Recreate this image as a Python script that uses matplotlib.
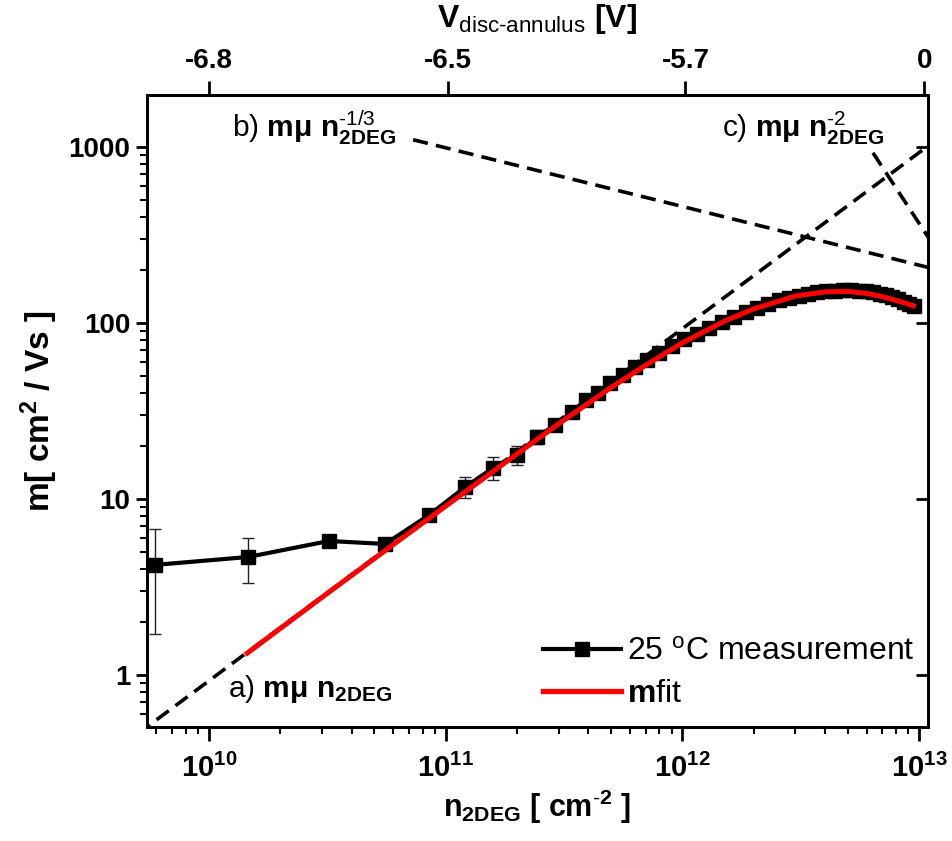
import matplotlib
matplotlib.use("Agg")
import matplotlib.pyplot as plt
from matplotlib.lines import Line2D
from matplotlib.ticker import LogLocator, NullFormatter, NullLocator

plt.rcParams['font.family'] = ['Liberation Sans', 'DejaVu Sans']
plt.rcParams['mathtext.fontset'] = 'custom'
plt.rcParams['mathtext.rm'] = 'Liberation Sans'
plt.rcParams['mathtext.bf'] = 'Liberation Sans:bold'
plt.rcParams['mathtext.it'] = 'Liberation Sans:italic'
plt.rcParams['mathtext.sf'] = 'Liberation Sans'

# ---- data ----
meas_n = [5.9e9, 1.46e10, 3.21e10, 5.55e10, 8.5e10, 1.21e11, 1.585e11, 2.0e11, 2.43e11,
          2.9e11, 3.42e11, 3.92e11, 4.4e11, 4.94e11, 5.6e11, 6.3e11, 7.1e11, 8.0e11,
          9.0e11, 1.02e12, 1.15e12, 1.3e12, 1.47e12, 1.65e12, 1.85e12, 2.07e12, 2.3e12,
          2.55e12, 2.82e12, 3.1e12, 3.4e12, 3.72e12, 4.05e12, 4.4e12, 4.77e12, 5.15e12,
          5.55e12, 5.95e12, 6.37e12, 6.8e12, 7.25e12, 7.7e12, 8.15e12, 8.6e12, 9.05e12,
          9.5e12]
meas_mu = [4.22, 4.68, 5.77, 5.55, 8.1, 11.7, 15.0, 17.8, 22.5, 26.3, 31.2, 36.5, 40.0,
           45.6, 50.5, 55.8, 61.5, 67.5, 73.5, 80.5, 87.0, 94.0, 101, 108, 115, 122, 128,
           134, 139, 143, 146.5, 149, 151, 152.5, 153, 153, 152.5, 151, 149, 146.5, 143.5,
           140, 136, 132, 128, 124]
meas_err = [2.5, 1.35, 0.3, 0.3, 0.6, 1.6, 2.2, 2.2, 2.0, 1.9, 1.8, 1.8, 1.6, 1.6, 1.5,
            1.5, 1.4, 1.4, 1.3, 1.3, 1.2, 1.2, 1.2, 1.1, 1.1, 1.1, 1.0, 1.0, 1.0, 1.0,
            1.0, 1.0, 1.0, 1.0, 1.0, 1.0, 1.0, 1.0, 1.0, 1.0, 1.0, 1.0, 1.0, 1.0, 1.0, 1.0]

fit_n = [1.45e10, 3e10, 6e10, 1e11, 2e11, 3e11, 5e11, 7e11, 1e12, 1.5e12, 2e12, 3e12,
         4e12, 5e12, 6e12, 7e12, 8e12, 9e12, 9.45e12]
fit_mu = [1.33, 2.76, 5.5, 9.1, 18.0, 26.7, 43.0, 57.5, 77.0, 102, 120, 142, 150, 151,
          147, 141, 134, 128, 125]

line_a_n = [5.0e9, 1.1e13]
line_a_mu = [0.464, 1020]
line_b_n = [7.28e10, 1.1e13]
line_b_mu = [1097, 206]
line_c_n = [6.38e12, 1.1e13]
line_c_mu = [925, 302]

x_ticks = [1e10, 1e11, 1e12, 1e13]
x_ticklabels = [r'$\mathbf{10^{10}}$', r'$\mathbf{10^{11}}$', r'$\mathbf{10^{12}}$', r'$\mathbf{10^{13}}$']
y_ticks = [1, 10, 100, 1000]
y_ticklabels = ['1', '10', '100', '1000']
top_tick_n = [1.0e10, 1.02e11, 1.03e12, 1.05e13]
top_ticklabels = ['-6.8', '-6.5', '-5.7', '0']

# ---- figure ----
fig = plt.figure(figsize=(9.52, 8.41), dpi=100)
ax = fig.add_axes([0.1544, 0.1356, 0.8204, 0.7515])
ax.set_xscale('log')
ax.set_yscale('log')
xlim = (5.47e9, 1.09e13)
ax.set_xlim(*xlim)
ax.set_ylim(0.507, 1970)

dash = (0, (4.2, 2.3))
for xs, ys in [(line_a_n, line_a_mu), (line_b_n, line_b_mu), (line_c_n, line_c_mu)]:
    ax.plot(xs, ys, color='black', lw=2.6, linestyle=dash, zorder=2)

ax.errorbar(meas_n, meas_mu, yerr=meas_err, color='black', lw=3, marker='s', ms=10.5,
            ecolor='#222222', elinewidth=1, capsize=4.5, capthick=1, zorder=3)
ax.plot(fit_n, fit_mu, color='#ff0000', lw=3.6, zorder=4)

# annotations
fs_ann = 21.5
ax.text(1.2e10, 0.75, r'a) $\mathbf{m\mu\ n}_{\mathbf{2DEG}}$', fontsize=fs_ann,
        ha='left', va='baseline', zorder=5)
ax.text(1.25e10, 1140, r'b) $\mathbf{m\mu\ n}_{\mathbf{2DEG}}^{\text{-1/3}}$', fontsize=fs_ann,
        ha='left', va='baseline', zorder=5)
ax.text(1.47e12, 1140, r'c) $\mathbf{m\mu\ n}_{\mathbf{2DEG}}^{\text{-2}}$', fontsize=fs_ann,
        ha='left', va='baseline', zorder=5)

# axes styling
for s in ax.spines.values():
    s.set_linewidth(2)
ax.set_xticks(x_ticks)
ax.set_xticklabels(x_ticklabels)
ax.xaxis.set_minor_locator(LogLocator(base=10, subs=range(2, 10), numticks=20))
ax.xaxis.set_minor_formatter(NullFormatter())
ax.set_yticks(y_ticks)
ax.set_yticklabels(y_ticklabels)
ax.yaxis.set_minor_locator(LogLocator(base=10, subs=range(2, 10), numticks=20))
ax.yaxis.set_minor_formatter(NullFormatter())
ax.tick_params(axis='both', which='major', direction='out', length=8, width=2,
               labelsize=20, pad=4)
ax.tick_params(axis='both', which='minor', direction='out', length=5, width=1.5)
for lbl in ax.get_yticklabels():
    lbl.set_fontweight('bold')
ax.tick_params(axis='x', which='major', length=10, pad=9, labelsize=21)

# right axis: inward major ticks only
axr = ax.twinx()
axr.set_yscale('log')
axr.set_ylim(ax.get_ylim())
axr.set_yticks(y_ticks)
axr.yaxis.set_minor_locator(NullLocator())
axr.set_yticklabels([])
axr.tick_params(axis='y', which='major', direction='in', length=9, width=2)
for s in axr.spines.values():
    s.set_linewidth(2)

# top axis
axt = ax.twiny()
axt.set_xscale('log')
axt.set_xlim(*xlim)
axt.set_xticks(top_tick_n)
axt.set_xticklabels(top_ticklabels)
axt.xaxis.set_minor_locator(NullLocator())
axt.tick_params(axis='x', which='major', direction='out', length=10, width=2,
                labelsize=20, pad=5)
for lbl in axt.get_xticklabels():
    lbl.set_fontweight('bold')
for s in axt.spines.values():
    s.set_linewidth(2)
axt.set_xlabel(r'$\mathbf{V}_{\mathrm{disc\text{-}annulus}}\ \mathbf{[V]}$', fontsize=23, labelpad=15)

ax.set_xlabel(r'$\mathbf{n_{2DEG}\ [\ cm^{\text{-}2}\ ]}$', fontsize=22, labelpad=4)
ax.set_ylabel(r'$\mathbf{m[\ cm^{2}\ /\ Vs\ ]}$', fontsize=24, labelpad=6)

h_meas = Line2D([], [], color='black', lw=3, marker='s', ms=10)
h_fit = Line2D([], [], color='#ff0000', lw=3.8)
leg = ax.legend([h_meas, h_fit], [r'25 $^{\mathrm{o}}$C measurement', r'$\mathbf{m}$fit'],
                loc='lower right', bbox_to_anchor=(1.016, -0.012), frameon=False,
                fontsize=23, numpoints=1, handlelength=2.45, handletextpad=0.2,
                labelspacing=0.38, borderaxespad=0.4)

fig.savefig('out.png', dpi=100)
